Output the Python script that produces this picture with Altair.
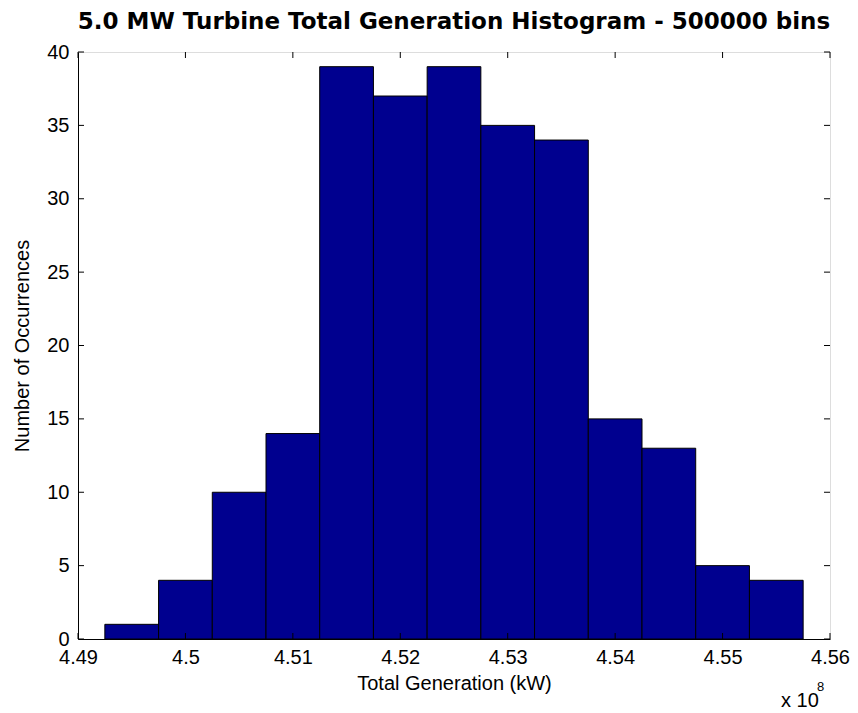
import altair as alt
import pandas as pd

# Histogram bins (x in units of 1e8 kW)
bin_left = [4.4925, 4.4975, 4.5025, 4.5075, 4.5125, 4.5175, 4.5225,
            4.5275, 4.5325, 4.5375, 4.5425, 4.5475, 4.5525]
bin_width = 0.005
counts = [1, 4, 10, 14, 39, 37, 39, 35, 34, 15, 13, 5, 4]

x_ticks = [4.49, 4.50, 4.51, 4.52, 4.53, 4.54, 4.55, 4.56]
y_ticks = [0, 5, 10, 15, 20, 25, 30, 35, 40]

title_text = "5.0 MW Turbine Total Generation Histogram - 500000 bins"

W, H = 752, 587
FONT = "Liberation Sans"

df = pd.DataFrame({
    "x0": bin_left,
    "x1": [b + bin_width for b in bin_left],
    "n": counts,
})
xt = pd.DataFrame({"v": x_ticks})
yt = pd.DataFrame({"v": y_ticks})

xscale = alt.Scale(domain=[4.49, 4.56], nice=False, zero=False)
yscale = alt.Scale(domain=[0, 40], nice=False)

bars = alt.Chart(df).mark_rect(color="#00008F", stroke="#000000", strokeWidth=1).encode(
    x=alt.X("x0:Q", scale=xscale,
            axis=alt.Axis(values=x_ticks, format="~g", title="Total Generation (kW)",
                          ticks=False, grid=False, labelPadding=8, titlePadding=6,
                          labelFontSize=20, titleFontSize=20, labelFont=FONT, titleFont=FONT,
                          titleFontWeight="normal",
                          labelColor="#000", titleColor="#000", domainColor="#000",
                          labelFlush=False)),
    x2="x1:Q",
    y=alt.Y("n:Q", scale=yscale,
            axis=alt.Axis(values=y_ticks, title="Number of Occurrences",
                          ticks=False, grid=False, labelPadding=9, titlePadding=14,
                          labelFontSize=20, titleFontSize=20, labelFont=FONT, titleFont=FONT,
                          titleFontWeight="normal",
                          labelColor="#000", titleColor="#000", domainColor="#000",
                          labelFlush=False)),
    y2=alt.datum(0),
)

tick_len = 6
xt_bottom = alt.Chart(xt).mark_rule(color="#000").encode(
    x=alt.X("v:Q", scale=xscale), y=alt.value(H), y2=alt.value(H - tick_len))
xt_top = alt.Chart(xt).mark_rule(color="#000").encode(
    x=alt.X("v:Q", scale=xscale), y=alt.value(0), y2=alt.value(tick_len))
yt_left = alt.Chart(yt).mark_rule(color="#000").encode(
    y=alt.Y("v:Q", scale=yscale), x=alt.value(0), x2=alt.value(tick_len))
yt_right = alt.Chart(yt).mark_rule(color="#000").encode(
    y=alt.Y("v:Q", scale=yscale), x=alt.value(W), x2=alt.value(W - tick_len))

title_mark = alt.Chart(pd.DataFrame({"t": [title_text]})).mark_text(
    font="DejaVu Sans", fontSize=23, fontWeight="bold", align="center",
    baseline="alphabetic", color="#000"
).encode(text="t:N", x=alt.value(W / 2), y=alt.value(-23))

exp_base = alt.Chart(pd.DataFrame({"t": ["x 10"]})).mark_text(
    font=FONT, fontSize=20, align="left", baseline="alphabetic", color="#000"
).encode(text="t:N", x=alt.value(W - 49), y=alt.value(H + 68))
exp_sup = alt.Chart(pd.DataFrame({"t": ["8"]})).mark_text(
    font=FONT, fontSize=13, align="left", baseline="alphabetic", color="#000"
).encode(text="t:N", x=alt.value(W - 13), y=alt.value(H + 52))

chart = alt.layer(bars, xt_bottom, xt_top, yt_left, yt_right, title_mark,
                  exp_base, exp_sup).properties(
    width=W, height=H,
    autosize=alt.AutoSizeParams(type="none"),
    padding={"left": 70, "top": 44, "right": 20, "bottom": 74},
).configure_view(stroke="#000", strokeWidth=1).configure(background="white")

chart.save("out.html", embed_options={"renderer": "svg", "actions": False})
